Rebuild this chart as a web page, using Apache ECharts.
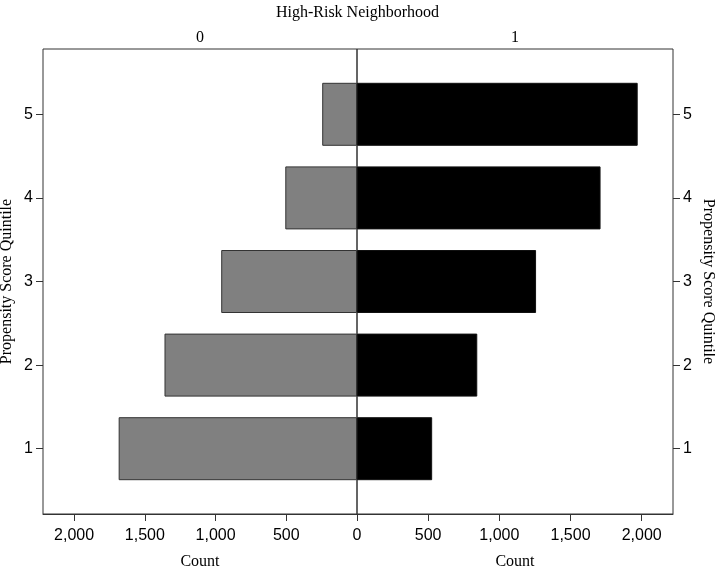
<!DOCTYPE html>
<html>
<head>
<meta charset="utf-8">
<script src="https://cdn.jsdelivr.net/npm/echarts@6/dist/echarts.min.js"></script>
<style>
html,body{margin:0;padding:0;background:#fff;}
#chart{width:715px;height:569px;}
</style>
</head>
<body>
<div id="chart"></div>
<script>
// Data
const quintiles = [1, 2, 3, 4, 5];
const countLowRisk = [1685, 1361, 960, 507, 246];    // High-Risk Neighborhood = 0
const countHighRisk = [528, 845, 1258, 1711, 1972];  // High-Risk Neighborhood = 1
const countTicks = [0, 500, 1000, 1500, 2000];
const countTicksRight = [500, 1000, 1500, 2000];
const countMax = 2220;
const groupLabels = ['0', '1'];

const SANS = "'Liberation Sans Narrow', 'Arial Narrow', 'Liberation Sans', Arial, sans-serif";
const SERIF = "'Liberation Serif', 'Times New Roman', serif";
const LINE = '#333333';

const fmt = v => Number(v).toLocaleString('en-US');

const chart = echarts.init(document.getElementById('chart'), null, {renderer: 'canvas'});

const frameTop = 49, frameH = 465;
const bandTop = 72.5, bandH = 418;
const leftX = 43, leftW = 314, rightX = 357, rightW = 316;

const gridBase = {outerBoundsMode: 'none', containLabel: false};

const option = {
  animation: false,
  backgroundColor: '#ffffff',
  title: {
    text: 'High-Risk Neighborhood',
    left: 'center',
    top: 0,
    textStyle: {fontFamily: SERIF, fontSize: 16, fontWeight: 'normal', color: '#000'}
  },
  grid: [
    Object.assign({left: leftX, top: bandTop, width: leftW, height: bandH, show: false}, gridBase),
    Object.assign({left: rightX, top: bandTop, width: rightW, height: bandH, show: false}, gridBase),
    Object.assign({left: leftX, top: frameTop, width: leftW, height: frameH, show: true, borderColor: LINE, borderWidth: 1, backgroundColor: 'transparent'}, gridBase),
    Object.assign({left: rightX, top: frameTop, width: rightW, height: frameH, show: true, borderColor: LINE, borderWidth: 1, backgroundColor: 'transparent'}, gridBase)
  ],
  xAxis: [
    {gridIndex: 0, type: 'value', inverse: true, min: 0, max: countMax, show: false},
    {gridIndex: 1, type: 'value', min: 0, max: countMax, show: false},
    {
      gridIndex: 2, type: 'value', inverse: true, min: 0, max: countMax, position: 'bottom',
      axisLine: {show: true, onZero: false, lineStyle: {color: LINE, width: 1}},
      axisTick: {show: true, length: 7, lineStyle: {color: LINE}, customValues: countTicks},
      axisLabel: {customValues: countTicks, formatter: fmt, fontFamily: SANS, fontSize: 16, color: '#000', margin: 14},
      splitLine: {show: false},
      name: 'Count', nameLocation: 'middle', nameGap: 40,
      nameTextStyle: {fontFamily: SERIF, fontSize: 16, color: '#000'}
    },
    {
      gridIndex: 3, type: 'value', min: 0, max: countMax, position: 'bottom',
      axisLine: {show: true, onZero: false, lineStyle: {color: LINE, width: 1}},
      axisTick: {show: true, length: 7, lineStyle: {color: LINE}, customValues: countTicks},
      axisLabel: {customValues: countTicksRight, formatter: fmt, fontFamily: SANS, fontSize: 16, color: '#000', margin: 14},
      splitLine: {show: false},
      name: 'Count', nameLocation: 'middle', nameGap: 40,
      nameTextStyle: {fontFamily: SERIF, fontSize: 16, color: '#000'}
    },
    {
      gridIndex: 2, type: 'value', min: 0, max: countMax, position: 'top',
      axisLine: {show: false}, axisTick: {show: false}, axisLabel: {show: false}, splitLine: {show: false},
      name: groupLabels[0], nameLocation: 'middle', nameGap: 3,
      nameTextStyle: {fontFamily: SERIF, fontSize: 16, color: '#000'}
    },
    {
      gridIndex: 3, type: 'value', min: 0, max: countMax, position: 'top',
      axisLine: {show: false}, axisTick: {show: false}, axisLabel: {show: false}, splitLine: {show: false},
      name: groupLabels[1], nameLocation: 'middle', nameGap: 3,
      nameTextStyle: {fontFamily: SERIF, fontSize: 16, color: '#000'}
    }
  ],
  yAxis: [
    {
      gridIndex: 0, type: 'category', data: quintiles, position: 'left',
      axisLine: {show: false, onZero: false},
      axisTick: {show: true, alignWithLabel: true, length: 7, lineStyle: {color: LINE, width: 1}},
      axisLabel: {fontFamily: SANS, fontSize: 16, color: '#000', margin: 10, padding: [3, 0, 0, 0]},
      name: 'Propensity Score Quintile', nameLocation: 'middle', nameRotate: 90, nameGap: 28,
      nameTextStyle: {fontFamily: SERIF, fontSize: 16, color: '#000'}
    },
    {
      gridIndex: 1, type: 'category', data: quintiles, position: 'right',
      axisLine: {show: false, onZero: false},
      axisTick: {show: true, alignWithLabel: true, length: 7, lineStyle: {color: LINE, width: 1}},
      axisLabel: {fontFamily: SANS, fontSize: 16, color: '#000', margin: 10, padding: [3, 0, 0, 0]},
      name: 'Propensity Score Quintile', nameLocation: 'middle', nameRotate: -90, nameGap: 27,
      nameTextStyle: {fontFamily: SERIF, fontSize: 16, color: '#000'}
    },
    {gridIndex: 2, type: 'value', show: false},
    {gridIndex: 3, type: 'value', show: false}
  ],
  series: [
    {
      name: groupLabels[0], type: 'bar', xAxisIndex: 0, yAxisIndex: 0,
      data: countLowRisk, barWidth: 63,
      itemStyle: {color: '#808080', borderColor: LINE, borderWidth: 1},
      silent: true
    },
    {
      name: groupLabels[1], type: 'bar', xAxisIndex: 1, yAxisIndex: 1,
      data: countHighRisk, barWidth: 63,
      itemStyle: {color: '#000000', borderColor: '#111', borderWidth: 1},
      silent: true
    }
  ]
};
chart.setOption(option);
</script>
</body>
</html>
